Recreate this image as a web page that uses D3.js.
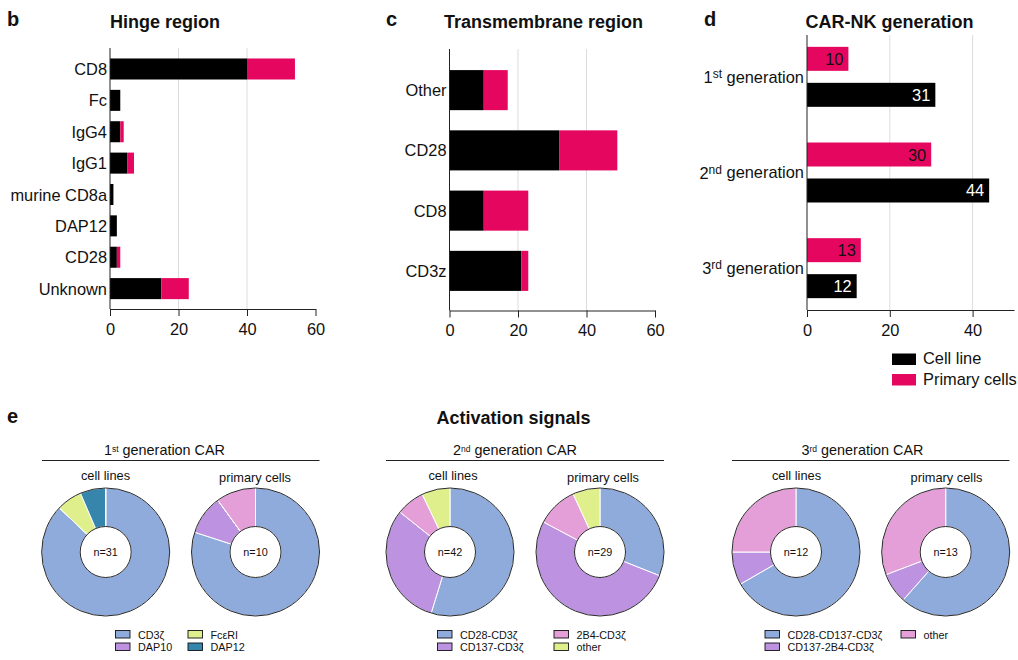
<!DOCTYPE html>
<html>
<head>
<meta charset="utf-8">
<script src="https://cdn.jsdelivr.net/npm/d3@7"></script>
<style>
  html, body { margin: 0; padding: 0; background: #fff; }
  svg { display: block; }
  text { font-family: "Liberation Sans", Arial, sans-serif; fill: #111; }
</style>
</head>
<body>
<svg id="chart" width="1018" height="660"></svg>
<script>
// ---- data ----
const hingeCats = ["CD8", "Fc", "IgG4", "IgG1", "murine CD8a", "DAP12", "CD28", "Unknown"];
const hingeCell = [40, 3, 3, 5, 1, 2, 2, 15];
const hingePrimary = [14, 0, 1, 2, 0, 0, 1, 8];

const tmCats = ["Other", "CD28", "CD8", "CD3z"];
const tmCell = [10, 32, 10, 21];
const tmPrimary = [7, 17, 13, 2];

const genCats = ["1", "2", "3"];
const genSuffix = ["st", "nd", "rd"];
const genCell = [31, 44, 12];
const genPrimary = [10, 30, 13];

const barTicks = [0, 20, 40, 60];
const genTicks = [0, 20, 40];

const firstLabels = ["CD3ζ", "DAP10", "FcεRI", "DAP12", "other"];
const firstCell = [27, 0, 2, 2, 0];
const firstPrimary = [8, 1, 0, 0, 1];

const secondLabels = ["CD28-CD3ζ", "CD137-CD3ζ", "2B4-CD3ζ", "other"];
const secondCell = [23, 13, 3, 3];
const secondPrimary = [9, 15, 3, 2];

const thirdLabels = ["CD28-CD137-CD3ζ", "CD137-2B4-CD3ζ", "other"];
const thirdCell = [8, 1, 3];
const thirdPrimary = [8, 1, 4];

const BLACK = "#000", CRIMSON = "#e5075f";
const BLUE = "#8fabdc", PURPLE = "#bd92e0", LIME = "#dfef8c", TEAL = "#3585ac", PINK = "#e49fd8";

const svg = d3.select("#chart");

function label(x, y, txt, size, opts = {}) {
  return svg.append("text")
    .attr("x", x).attr("y", y)
    .attr("font-size", size)
    .attr("font-weight", opts.bold ? "bold" : null)
    .attr("text-anchor", opts.anchor || "start")
    .text(txt);
}

function gridLines(g, x, top, bottom, gridTicks) {
  g.selectAll(".grid").data(gridTicks).enter().append("line")
    .attr("class", "grid")
    .attr("x1", d => x(d)).attr("x2", d => x(d))
    .attr("y1", top).attr("y2", bottom)
    .attr("stroke", "#dcdcdc").attr("stroke-width", 1);
}

function barAxes(g, x, y, top, bottom, ticks) {
  const xAxis = g.append("g")
    .attr("transform", `translate(0,${bottom})`)
    .call(d3.axisBottom(x).tickValues(ticks).tickSize(7).tickSizeOuter(0).tickPadding(7));
  xAxis.selectAll("text").attr("font-size", 16.4).attr("fill", "#111");
  xAxis.selectAll("line, path").attr("stroke", "#222");

  const yAxis = g.append("g")
    .attr("transform", `translate(${x(0)},0)`)
    .call(d3.axisLeft(y).tickSize(0).tickPadding(3));
  yAxis.select("path").remove();
  yAxis.selectAll("text").attr("font-size", 16.4).attr("fill", "#111").attr("dy", "0.37em");

  g.append("line")
    .attr("x1", x(0)).attr("x2", x(0))
    .attr("y1", top).attr("y2", bottom)
    .attr("stroke", "#222").attr("stroke-width", 1);
  return yAxis;
}

function stackedPanel(cats, cell, primary, xRange, yRange, padding, top, bottom) {
  const g = svg.append("g");
  const x = d3.scaleLinear().domain([0, 60]).range(xRange);
  const y = d3.scaleBand().domain(cats).range(yRange).paddingInner(padding).paddingOuter(padding / 2);

  gridLines(g, x, top, bottom, [20, 40]);

  g.selectAll(".cell").data(cats).enter().append("rect")
    .attr("x", x(0))
    .attr("y", d => y(d))
    .attr("width", (d, i) => x(cell[i]) - x(0))
    .attr("height", y.bandwidth())
    .attr("fill", BLACK);

  g.selectAll(".primary").data(cats).enter().append("rect")
    .attr("x", (d, i) => x(cell[i]))
    .attr("y", d => y(d))
    .attr("width", (d, i) => x(cell[i] + primary[i]) - x(cell[i]))
    .attr("height", y.bandwidth())
    .attr("fill", CRIMSON);

  barAxes(g, x, y, top, bottom, barTicks);
}

// ---- panels b, c ----
label(7, 26, "b", 20, { bold: true });
label(110, 28, "Hinge region", 18, { bold: true });
stackedPanel(hingeCats, hingeCell, hingePrimary, [110, 315.5], [53.3, 304.3], 0.33, 48, 309);

label(386, 26, "c", 20, { bold: true });
label(444, 28, "Transmembrane region", 18, { bold: true });
stackedPanel(tmCats, tmCell, tmPrimary, [449.5, 655], [60, 301], 0.335, 49, 310.5);

// ---- panel d ----
label(704, 26, "d", 20, { bold: true });
label(805.5, 28, "CAR-NK generation", 18, { bold: true });
{
  const g = svg.append("g");
  const x = d3.scaleLinear().domain([0, 50]).range([807, 1014]);
  const y = d3.scaleBand().domain(genCats).range([29, 316]).paddingInner(0.373).paddingOuter(0.1865);
  const sub = d3.scaleBand().domain(["primary", "cell"]).range([0, y.bandwidth()]).paddingInner(1 / 3);
  const top = 35, bottom = 310;

  gridLines(g, x, top, bottom, [20, 40]);

  const series = [
    { key: "primary", values: genPrimary, fill: CRIMSON, textFill: "#111" },
    { key: "cell", values: genCell, fill: BLACK, textFill: "#fff" }
  ];
  series.forEach(s => {
    g.selectAll(".bar-" + s.key).data(genCats).enter().append("rect")
      .attr("x", x(0))
      .attr("y", d => y(d) + sub(s.key))
      .attr("width", (d, i) => x(s.values[i]) - x(0))
      .attr("height", sub.bandwidth())
      .attr("fill", s.fill);
    g.selectAll(".val-" + s.key).data(genCats).enter().append("text")
      .attr("x", (d, i) => x(s.values[i]) - 5)
      .attr("y", d => y(d) + sub(s.key) + sub.bandwidth() / 2 + 6)
      .attr("text-anchor", "end")
      .attr("font-size", 16.4)
      .style("fill", s.textFill)
      .text((d, i) => s.values[i]);
  });

  const yAxis = barAxes(g, x, y, top, bottom, genTicks);
  yAxis.selectAll(".tick text").each(function (d, i) {
    const t = d3.select(this).text("");
    t.append("tspan").text(d);
    t.append("tspan").attr("dy", "-0.42em").attr("font-size", 12).text(genSuffix[i]);
    t.append("tspan").attr("dy", "0.3em").text(" generation");
  });

  // legend
  const legend = [["Cell line", BLACK, 353.5], ["Primary cells", CRIMSON, 374]];
  legend.forEach(l => {
    svg.append("rect").attr("x", 892).attr("y", l[2]).attr("width", 24).attr("height", 11.5).attr("fill", l[1]);
    label(923, l[2] + 10.5, l[0], 16.4);
  });
}

// ---- panel e ----
label(7, 423, "e", 20, { bold: true });
label(513.5, 424, "Activation signals", 18, { bold: true, anchor: "middle" });

const pie = d3.pie().sort(null).value(d => d);
const arc = d3.arc().innerRadius(25.5).outerRadius(64);

function donut(cx, values, colors, n) {
  const g = svg.append("g").attr("transform", `translate(${cx},552)`);
  g.selectAll("path").data(pie(values)).enter().append("path")
    .attr("d", arc)
    .attr("fill", (d, i) => colors[i])
    .attr("stroke", "#fff")
    .attr("stroke-width", 1);
  [64, 25.5].forEach(r => {
    g.append("circle").attr("r", r).attr("fill", "none").attr("stroke", "#111").attr("stroke-width", 0.9);
  });
  g.append("text").attr("y", 3.8).attr("text-anchor", "middle").attr("font-size", 10.8).text("n=" + n);
}

function genHeader(cx, x1, x2, num, suf) {
  const t = svg.append("text").attr("x", cx).attr("y", 455).attr("text-anchor", "middle").attr("font-size", 14.4);
  t.append("tspan").text(num);
  t.append("tspan").attr("dy", "-0.4em").attr("font-size", 8.5).text(suf);
  t.append("tspan").attr("dy", "0.27em").text(" generation CAR");
  svg.append("line").attr("x1", x1).attr("x2", x2).attr("y1", 460.5).attr("y2", 460.5)
    .attr("stroke", "#222").attr("stroke-width", 1);
}

function pieLegend(items) {
  items.forEach(it => {
    svg.append("rect").attr("x", it[0]).attr("y", it[1]).attr("width", 14.5).attr("height", 7.5)
      .attr("fill", it[3]).attr("stroke", "#111").attr("stroke-width", 0.9);
    label(it[0] + 22.5, it[1] + 8, it[2], 10.8);
  });
}

// 1st generation
genHeader(164.5, 42, 319.5, "1", "st");
label(105.5, 480, "cell lines", 12.8, { anchor: "middle" });
label(255, 482, "primary cells", 12.8, { anchor: "middle" });
donut(105.7, firstCell, [BLUE, PURPLE, LIME, TEAL, PINK], d3.sum(firstCell));
donut(255.5, firstPrimary, [BLUE, PURPLE, LIME, TEAL, PINK], d3.sum(firstPrimary));
pieLegend([
  [115.5, 630.5, firstLabels[0], BLUE], [115.5, 643, firstLabels[1], PURPLE],
  [188, 630.5, firstLabels[2], LIME], [188, 643, firstLabels[3], TEAL]
]);

// 2nd generation
genHeader(515, 386, 664, "2", "nd");
label(453, 480, "cell lines", 12.8, { anchor: "middle" });
label(603, 482, "primary cells", 12.8, { anchor: "middle" });
donut(450, secondCell, [BLUE, PURPLE, PINK, LIME], d3.sum(secondCell));
donut(600, secondPrimary, [BLUE, PURPLE, PINK, LIME], d3.sum(secondPrimary));
pieLegend([
  [437.5, 630.5, secondLabels[0], BLUE], [437.5, 643, secondLabels[1], PURPLE],
  [554, 630.5, secondLabels[2], PINK], [554, 643, secondLabels[3], LIME]
]);

// 3rd generation
genHeader(862.5, 732, 1009.5, "3", "rd");
label(796.5, 480, "cell lines", 12.8, { anchor: "middle" });
label(946.5, 482, "primary cells", 12.8, { anchor: "middle" });
donut(796, thirdCell, [BLUE, PURPLE, PINK], d3.sum(thirdCell));
donut(945.7, thirdPrimary, [BLUE, PURPLE, PINK], d3.sum(thirdPrimary));
pieLegend([
  [765, 630.5, thirdLabels[0], BLUE], [765, 643, thirdLabels[1], PURPLE],
  [901, 630.5, thirdLabels[2], PINK]
]);
</script>
</body>
</html>
